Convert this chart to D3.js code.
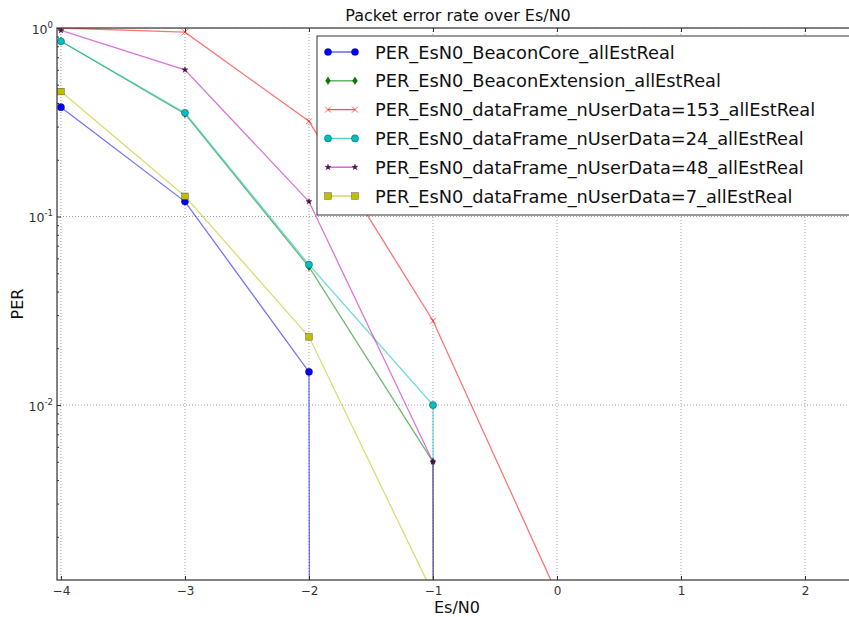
<!DOCTYPE html>
<html>
<head>
<meta charset="utf-8">
<script src="https://cdn.jsdelivr.net/npm/d3@7"></script>
<style>
  body { margin: 0; background: #fff; }
  text { font-family: "DejaVu Sans", sans-serif; }
</style>
</head>
<body>
<div id="chart"></div>
<script>
// data
var esn0 = [-4, -3, -2, -1, 0, 1, 2];
var perCore = [0.38, 0.12, 0.015, 0, 0, 0, 0];
var perExt = [0.85, 0.35, 0.054, 0.005, 0, 0, 0];
var per153 = [1.0, 0.95, 0.32, 0.028, 0.001, 0, 0];
var per24 = [0.85, 0.355, 0.0555, 0.01, 0, 0, 0];
var per48 = [0.97, 0.6, 0.12, 0.005, 0, 0, 0];
var per7 = [0.46, 0.128, 0.023, 0.001, 0, 0, 0];
var seriesNames = ["PER_EsN0_BeaconCore_allEstReal", "PER_EsN0_BeaconExtension_allEstReal",
  "PER_EsN0_dataFrame_nUserData=153_allEstReal", "PER_EsN0_dataFrame_nUserData=24_allEstReal",
  "PER_EsN0_dataFrame_nUserData=48_allEstReal", "PER_EsN0_dataFrame_nUserData=7_allEstReal"];
var xTicks = [-4, -3, -2, -1, 0, 1, 2];
var yMajor = [1, 0.1, 0.01];
var yExp = [0, -1, -2];

var w = 849, h = 617;
var mLeft = 57, mRight = 849, mTop = 28, mBottom = 580;

var colors = ["#0000ff", "#008000", "#ff0000", "#00bfbf", "#bf00bf", "#bfbf00"];
var shapes = ["circle", "diamond", "x", "circle", "star", "square"];
var allSeries = [perCore, perExt, per153, per24, per48, per7];

var x = d3.scaleLinear().domain([-4.032, 2.355]).range([mLeft, mRight]);
var y = d3.scaleLog().domain([1.18e-3, 1]).range([mBottom, mTop]);

// values <= 0 are clipped to a tiny number, like matplotlib does on log axes
function yv(v) { return v > 0 ? y(v) : y(1e-300); }

var svg = d3.select("#chart").append("svg")
    .attr("width", w).attr("height", h);

svg.append("defs").append("clipPath").attr("id", "plotclip")
  .append("rect").attr("x", mLeft).attr("y", mTop)
  .attr("width", mRight - mLeft).attr("height", mBottom - mTop);

// grid
var grid = svg.append("g").attr("clip-path", "url(#plotclip)");
grid.selectAll("line.gx").data(xTicks).enter().append("line")
    .attr("x1", function(d) { return x(d); }).attr("x2", function(d) { return x(d); })
    .attr("y1", mTop).attr("y2", mBottom)
    .attr("stroke", "#888").attr("stroke-width", 0.8).attr("stroke-dasharray", "1,2");
grid.selectAll("line.gy").data(yMajor).enter().append("line")
    .attr("x1", mLeft).attr("x2", mRight)
    .attr("y1", function(d) { return y(d); }).attr("y2", function(d) { return y(d); })
    .attr("stroke", "#888").attr("stroke-width", 0.8).attr("stroke-dasharray", "1,2");

function drawMarker(g, shape, color) {
  var s;
  if (shape == "circle") {
    g.append("circle").attr("r", 3.6).attr("fill", color).attr("stroke", "#000").attr("stroke-width", 0.5).attr("stroke-opacity", 0.6);
  } else if (shape == "square") {
    g.append("rect").attr("x", -3.3).attr("y", -3.3).attr("width", 6.6).attr("height", 6.6)
      .attr("fill", color).attr("stroke", "#000").attr("stroke-width", 0.5).attr("stroke-opacity", 0.6);
  } else if (shape == "diamond") {
    g.append("path").attr("d", "M0,-3.8L2.4,0L0,3.8L-2.4,0Z")
      .attr("fill", color).attr("stroke", "#000").attr("stroke-width", 0.5).attr("stroke-opacity", 0.6);
  } else if (shape == "x") {
    g.append("path").attr("d", "M-3,-3L3,3M-3,3L3,-3")
      .attr("stroke", color).attr("stroke-width", 1).attr("stroke-opacity", 0.6).attr("fill", "none");
  } else if (shape == "star") {
    s = d3.symbol().type(d3.symbolStar).size(11);
    g.append("path").attr("d", s())
      .attr("fill", "#600060").attr("stroke", "#000").attr("stroke-width", 0.5).attr("stroke-opacity", 0.6);
  }
}

var line = d3.line()
    .x(function(d) { return x(d.x); })
    .y(function(d) { return yv(d.v); });

var plot = svg.append("g").attr("clip-path", "url(#plotclip)");
allSeries.forEach(function(vals, i) {
  var pts = esn0.map(function(e, j) { return {x: e, v: vals[j]}; });
  plot.append("path").datum(pts)
      .attr("d", line)
      .attr("fill", "none")
      .attr("stroke", colors[i])
      .attr("stroke-opacity", 0.55)
      .attr("stroke-width", 1.3);
  pts.filter(function(d) { return d.v > 0; }).forEach(function(d) {
    var g = plot.append("g").attr("transform", "translate(" + x(d.x) + "," + y(d.v) + ")");
    drawMarker(g, shapes[i], colors[i]);
  });
});

// axes (classic matplotlib: ticks inside)
var xAxis = d3.axisBottom(x).tickValues(xTicks).tickSize(-4).tickPadding(6)
    .tickFormat(function(d) { return d < 0 ? "\u2212" + Math.abs(d) : d; });
var gx = svg.append("g").attr("transform", "translate(0," + mBottom + ")").call(xAxis);
gx.select(".domain").remove();
gx.selectAll("text").attr("font-size", 12).attr("fill", "#333").attr("font-family", "DejaVu Sans");
gx.selectAll("line").attr("stroke", "#333");

var xTop = d3.axisTop(x).tickValues(xTicks).tickSize(-4).tickFormat("");
var gxt = svg.append("g").attr("transform", "translate(0," + mTop + ")").call(xTop);
gxt.select(".domain").remove();
gxt.selectAll("line").attr("stroke", "#333");

var yMinor = [];
[-3, -2, -1].forEach(function(k) {
  for (var m = 2; m <= 9; m++) {
    var v = m * Math.pow(10, k);
    if (v >= 1.18e-3 && v < 1) yMinor.push(v);
  }
});
var gyMinor = svg.append("g").attr("transform", "translate(" + mLeft + ",0)")
    .call(d3.axisLeft(y).tickValues(yMinor).tickSize(-2).tickFormat(""));
gyMinor.select(".domain").remove();
gyMinor.selectAll("line").attr("stroke", "#333");

var gy = svg.append("g").attr("transform", "translate(" + mLeft + ",0)")
    .call(d3.axisLeft(y).tickValues(yMajor).tickSize(-4).tickPadding(6).tickFormat(""));
gy.select(".domain").remove();
gy.selectAll("line").attr("stroke", "#333");
gy.selectAll(".tick").each(function(d, i) {
  var t = d3.select(this).append("text")
      .attr("x", -4).attr("y", 5)
      .attr("text-anchor", "end")
      .attr("fill", "#333")
      .attr("font-size", 12.5);
  t.append("tspan").text("10");
  t.append("tspan").attr("dy", -6).attr("font-size", 8.5).text(yExp[i]);
});

// frame
svg.append("rect").attr("x", mLeft).attr("y", mTop)
    .attr("width", mRight - mLeft + 2).attr("height", mBottom - mTop)
    .attr("fill", "none").attr("stroke", "#333").attr("stroke-width", 1.2);

// legend
var lg = svg.append("g");
lg.append("rect").attr("x", 317).attr("y", 36).attr("width", 560).attr("height", 179)
    .attr("fill", "#fff").attr("stroke", "#333").attr("stroke-width", 1);
seriesNames.forEach(function(name, i) {
  var cy = 52 + i * 28.8;
  lg.append("line").attr("x1", 328).attr("x2", 355).attr("y1", cy).attr("y2", cy)
      .attr("stroke", colors[i]).attr("stroke-opacity", 0.7).attr("stroke-width", 1.3);
  [328, 355].forEach(function(mx) {
    drawMarker(lg.append("g").attr("transform", "translate(" + mx + "," + cy + ")"), shapes[i], colors[i]);
  });
  lg.append("text").attr("x", 375).attr("y", cy + 6.5)
      .attr("font-size", 17.8).attr("fill", "#111").text(name);
});

// titles
svg.append("text").attr("x", 458).attr("y", 21).attr("text-anchor", "middle")
    .attr("font-size", 16).attr("fill", "#111").text("Packet error rate over Es/N0");
svg.append("text").attr("x", 457).attr("y", 613).attr("text-anchor", "middle")
    .attr("font-size", 16).attr("fill", "#111").text("Es/N0");
svg.append("text").attr("transform", "translate(23," + ((mTop + mBottom) / 2) + ") rotate(-90)")
    .attr("text-anchor", "middle").attr("font-size", 16).attr("fill", "#111").text("PER");
</script>
</body>
</html>
